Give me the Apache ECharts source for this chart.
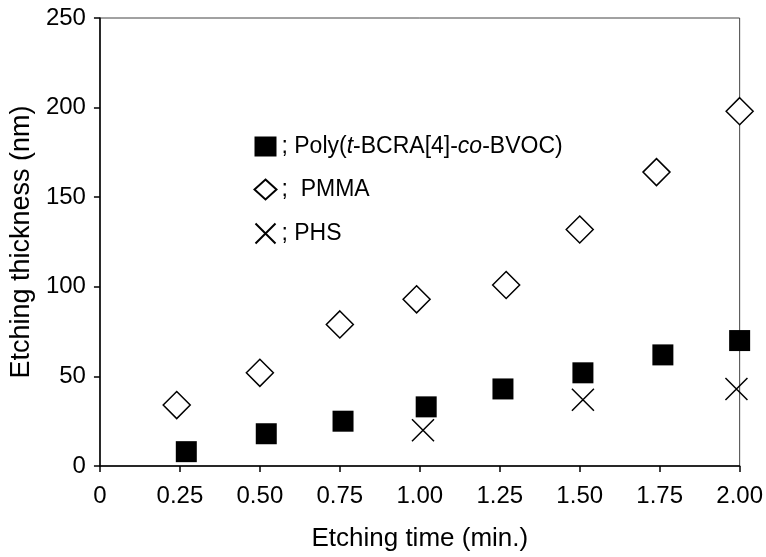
<!DOCTYPE html>
<html>
<head>
<meta charset="utf-8">
<title>Etching thickness vs time</title>
<script src="https://cdn.jsdelivr.net/npm/echarts@6/dist/echarts.min.js"></script>
<style>
  html, body { margin: 0; padding: 0; background: #fff; }
  #chart { width: 766px; height: 557px; }
</style>
</head>
<body>
<div id="chart"></div>
<script>
// values: etching time (min.) and thickness (nm)
const polyTime = [0.27, 0.52, 0.76, 1.02, 1.26, 1.51, 1.76, 2.0];
const polyThick = [8, 18, 25, 33, 43, 52, 62, 70];
const pmmaTime = [0.24, 0.5, 0.75, 0.99, 1.27, 1.5, 1.74, 2.0];
const pmmaThick = [34, 52, 79, 93, 101, 132, 164, 198];
const phsTime = [1.01, 1.51, 1.99];
const phsThick = [20, 37, 43];
const seriesNames = ["Poly(t-BCRA[4]-co-BVOC)", "PMMA", "PHS"];
const xTickLabels = ["0", "0.25", "0.50", "0.75", "1.00", "1.25", "1.50", "1.75", "2.00"];

const font = "Liberation Sans, Arial, sans-serif";
const crossPath = "path://M0,0L20,20M20,0L0,20";

function pairs(xs, ys) {
  return xs.map((x, i) => [x, ys[i]]);
}

const myChart = echarts.init(document.getElementById("chart"));

let option = {
  animation: false,
  backgroundColor: "#fff",
  grid: {
    left: 99,
    right: 25,
    top: 18,
    bottom: 88,
    show: true,
    borderColor: "#444",
    borderWidth: 1
  },
  legend: {
    orient: "vertical",
    left: 248,
    top: 130,
    itemGap: 20,
    itemWidth: 22,
    itemHeight: 20,
    data: seriesNames,
    selectedMode: false,
    formatter(name) {
      if (name === seriesNames[0]) {
        return "; Poly({it|t}-BCRA[4]-{it|co}-BVOC)";
      }
      if (name === "PMMA") {
        return ";  PMMA";
      }
      return "; " + name;
    },
    textStyle: {
      fontFamily: font,
      fontSize: 23,
      color: "#000",
      rich: {
        it: { fontFamily: font, fontSize: 23, fontStyle: "italic", color: "#000" }
      }
    }
  },
  xAxis: {
    type: "value",
    min: 0,
    max: 2,
    interval: 0.25,
    name: "Etching time (min.)",
    nameLocation: "middle",
    nameGap: 60,
    nameTextStyle: { fontFamily: font, fontSize: 26, color: "#000" },
    splitLine: { show: false },
    axisLine: { lineStyle: { color: "#000", width: 1.5 } },
    axisTick: { length: 6, lineStyle: { color: "#000", width: 1.5 } },
    axisLabel: {
      margin: 18,
      fontFamily: font,
      fontSize: 24,
      color: "#000",
      formatter(value) {
        return xTickLabels[Math.round(value / 0.25)];
      }
    }
  },
  yAxis: {
    type: "value",
    min: 0,
    max: 250,
    interval: 50,
    name: "Etching thickness (nm)",
    nameLocation: "middle",
    nameGap: 54,
    nameTextStyle: { fontFamily: font, fontSize: 27, color: "#000" },
    splitLine: { show: false },
    axisLine: { lineStyle: { color: "#000", width: 1.5 } },
    axisTick: { length: 6, lineStyle: { color: "#000", width: 1.5 } },
    axisLabel: {
      margin: 14,
      fontFamily: font,
      fontSize: 24,
      color: "#000"
    }
  },
  series: [
    {
      name: seriesNames[0],
      type: "scatter",
      data: pairs(polyTime, polyThick),
      symbol: "rect",
      symbolSize: 21,
      itemStyle: { color: "#000", opacity: 1 },
      emphasis: { disabled: true }
    },
    {
      name: seriesNames[1],
      type: "scatter",
      data: pairs(pmmaTime, pmmaThick),
      symbol: "diamond",
      symbolSize: 27,
      itemStyle: { color: "#fff", borderColor: "#000", borderWidth: 1.5, opacity: 1 },
      emphasis: { disabled: true }
    },
    {
      name: seriesNames[2],
      type: "scatter",
      data: pairs(phsTime, phsThick),
      symbol: crossPath,
      symbolSize: 22,
      itemStyle: { color: "none", borderColor: "#000", borderWidth: 1.5, opacity: 1 },
      emphasis: { disabled: true }
    }
  ]
};

myChart.setOption(option);
</script>
</body>
</html>
